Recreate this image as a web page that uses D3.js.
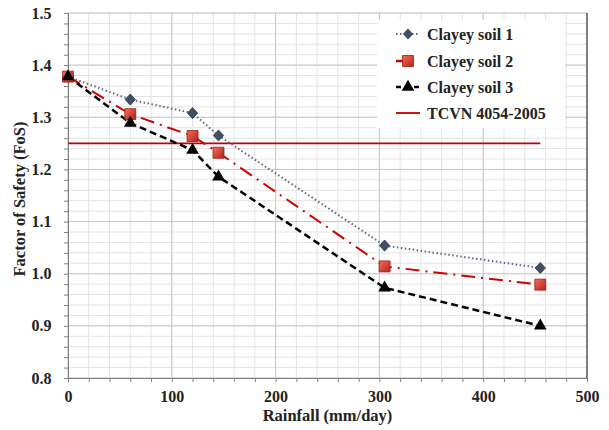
<!doctype html>
<html lang="en">
<head>
  <meta charset="utf-8">
  <title>Factor of Safety vs Rainfall</title>
</head>
<body style="margin:0; background:#fff;">
<div id="chart"></div>
<script src="https://cdn.jsdelivr.net/npm/d3@7"></script>
<script>
// data
var rainfall = [0, 60, 120, 145, 305, 455];
var soil1 = [1.378, 1.334, 1.308, 1.265, 1.054, 1.011];
var soil2 = [1.378, 1.306, 1.264, 1.232, 1.014, 0.979];
var soil3 = [1.378, 1.289, 1.237, 1.186, 0.973, 0.900];
var tcvn = 1.25;
var xTicks = [0, 100, 200, 300, 400, 500];
var yTicks = [0.8, 0.9, 1.0, 1.1, 1.2, 1.3, 1.4, 1.5];
var legendNames = ["Clayey soil 1", "Clayey soil 2", "Clayey soil 3", "TCVN 4054-2005"];

var width = 609, height = 430;
var margin = {top: 13, right: 22, bottom: 52, left: 68};
var FONT = "Liberation Serif";

var svg = d3.select("#chart").append("svg")
    .attr("width", width)
    .attr("height", height)
    .attr("font-family", FONT)
    .attr("font-weight", "bold");

var defs = svg.append("defs");
var grad = defs.append("linearGradient").attr("id", "sq").attr("x1", 0).attr("y1", 0).attr("x2", 1).attr("y2", 1);
grad.append("stop").attr("offset", "0%").attr("stop-color", "#f07060");
grad.append("stop").attr("offset", "100%").attr("stop-color", "#b82018");

var x = d3.scaleLinear().domain([0, 500]).range([margin.left, width - margin.right]);
var y = d3.scaleLinear().domain([0.8, 1.5]).range([height - margin.bottom, margin.top]);

var x0 = x.range()[0], x1 = x.range()[1], y0 = y.range()[0], y1 = y.range()[1];

// grid
function vgrid(vals, col) {
  svg.append("g").selectAll("line").data(vals).enter().append("line")
    .attr("x1", d => x(d)).attr("x2", d => x(d)).attr("y1", y1).attr("y2", y0)
    .attr("stroke", col).attr("stroke-width", 1);
}
function hgrid(vals, col) {
  svg.append("g").selectAll("line").data(vals).enter().append("line")
    .attr("y1", d => y(d)).attr("y2", d => y(d)).attr("x1", x0).attr("x2", x1)
    .attr("stroke", col).attr("stroke-width", 1);
}
vgrid(d3.range(0, 501, 20), "#e3e3e3");
hgrid(d3.range(0, 36).map(i => 0.8 + i * 0.02), "#e3e3e3");
vgrid(xTicks, "#c8c8c8");
hgrid(yTicks, "#c8c8c8");

// legend background (covers grid)
var lg = svg.append("g").attr("transform", "translate(377,20)");
lg.append("rect").attr("width", 188).attr("height", 108).attr("fill", "#fff");

// axes
var xAxis = d3.axisBottom(x).tickValues(d3.range(0, 501, 20)).tickSize(4)
  .tickFormat(d => xTicks.indexOf(d) >= 0 ? d : "");
var gx = svg.append("g").attr("transform", "translate(0," + y0 + ")").call(xAxis)
  .attr("font-family", FONT).attr("font-size", 16);
gx.select(".domain").attr("stroke", "#808080");
gx.selectAll(".tick line").attr("stroke", "#808080");
gx.selectAll(".tick text").attr("dy", "1.05em").attr("fill", "#222");

var yAxis = d3.axisLeft(y).tickValues(d3.range(0, 36).map(i => +(0.8 + i * 0.02).toFixed(2))).tickSize(4)
  .tickFormat(d => yTicks.some(t => Math.abs(t - d) < 1e-6) ? d3.format(".1f")(d) : "");
var gy = svg.append("g").attr("transform", "translate(" + x0 + ",0)").call(yAxis)
  .attr("font-family", FONT).attr("font-size", 16);
gy.select(".domain").attr("stroke", "#808080");
gy.selectAll(".tick line").attr("stroke", "#808080");
gy.selectAll(".tick text").attr("dx", "-0.6em").attr("fill", "#222");

svg.append("line").attr("x1", x1).attr("x2", x1).attr("y1", y1).attr("y2", y0)
  .attr("stroke", "#404040").attr("stroke-width", 1.2);

// TCVN threshold
svg.append("line")
  .attr("x1", x(0)).attr("x2", x(rainfall[rainfall.length - 1]))
  .attr("y1", y(tcvn)).attr("y2", y(tcvn))
  .attr("stroke", "#c00000").attr("stroke-width", 1.8);

var line = d3.line().x(d => x(d[0])).y(d => y(d[1]));
function pts(vals) { return rainfall.map((r, i) => [r, vals[i]]); }

// series lines
svg.append("path").datum(pts(soil1)).attr("d", line)
  .attr("fill", "none").attr("stroke", "#5b6b85").attr("stroke-width", 2).attr("stroke-dasharray", "1.5,2.5");
svg.append("path").datum(pts(soil2)).attr("d", line)
  .attr("fill", "none").attr("stroke", "#d00000").attr("stroke-width", 2).attr("stroke-dasharray", "14,6,2,6");
svg.append("path").datum(pts(soil3)).attr("d", line)
  .attr("fill", "none").attr("stroke", "#000").attr("stroke-width", 2.5).attr("stroke-dasharray", "7,4");

var diamond = d3.symbol().type(d3.symbolDiamond).size(36);
var square = d3.symbol().type(d3.symbolSquare).size(120);
var triangle = d3.symbol().type(d3.symbolTriangle).size(70);

svg.append("g").selectAll("path").data(pts(soil1)).enter().append("path")
  .attr("d", diamond).attr("transform", d => "translate(" + x(d[0]) + "," + y(d[1]) + ") scale(1.6,1)")
  .attr("fill", "#3f4f66").attr("stroke", "#2c3a4f").attr("stroke-width", 0.6);
svg.append("g").selectAll("path").data(pts(soil2)).enter().append("path")
  .attr("d", square).attr("transform", d => "translate(" + x(d[0]) + "," + y(d[1]) + ")")
  .attr("fill", "url(#sq)").attr("stroke", "#a01810").attr("stroke-width", 0.8);
svg.append("g").selectAll("path").data(pts(soil3)).enter().append("path")
  .attr("d", triangle).attr("transform", d => "translate(" + x(d[0]) + "," + y(d[1]) + ")")
  .attr("fill", "#000");

// legend
var rowY = [14, 41, 67, 93];
legendNames.forEach(function(name, i) {
  var g = lg.append("g").attr("transform", "translate(19," + rowY[i] + ")");
  if (i === 0) {
    g.append("line").attr("x1", 0).attr("x2", 24).attr("stroke", "#5b6b85").attr("stroke-width", 2).attr("stroke-dasharray", "1.5,2.5");
    g.append("path").attr("d", diamond).attr("transform", "translate(12,0) scale(1.6,1)").attr("fill", "#3f4f66");
  } else if (i === 1) {
    g.append("line").attr("x1", 0).attr("x2", 12).attr("stroke", "#d00000").attr("stroke-width", 2.5);
    g.append("path").attr("d", square).attr("transform", "translate(12,0)").attr("fill", "url(#sq)").attr("stroke", "#a01810").attr("stroke-width", 0.8);
  } else if (i === 2) {
    g.append("line").attr("x1", 0).attr("x2", 24).attr("stroke", "#000").attr("stroke-width", 2.5).attr("stroke-dasharray", "5,4");
    g.append("path").attr("d", triangle).attr("transform", "translate(12,0)").attr("fill", "#000");
  } else {
    g.append("line").attr("x1", 0).attr("x2", 24).attr("stroke", "#c00000").attr("stroke-width", 1.8);
  }
  g.append("text").attr("x", 31).attr("y", 5.5).attr("font-size", 16).attr("fill", "#222").text(name);
});

// axis titles
svg.append("text").attr("x", (x0 + x1) / 2).attr("y", 421).attr("text-anchor", "middle")
  .attr("font-size", 16.5).attr("fill", "#222").text("Rainfall (mm/day)");
svg.append("text").attr("transform", "translate(25,199) rotate(-90)")
  .attr("text-anchor", "middle").attr("font-size", 16.5).attr("fill", "#222").text("Factor of Safety (FoS)");
</script>
</body>
</html>
